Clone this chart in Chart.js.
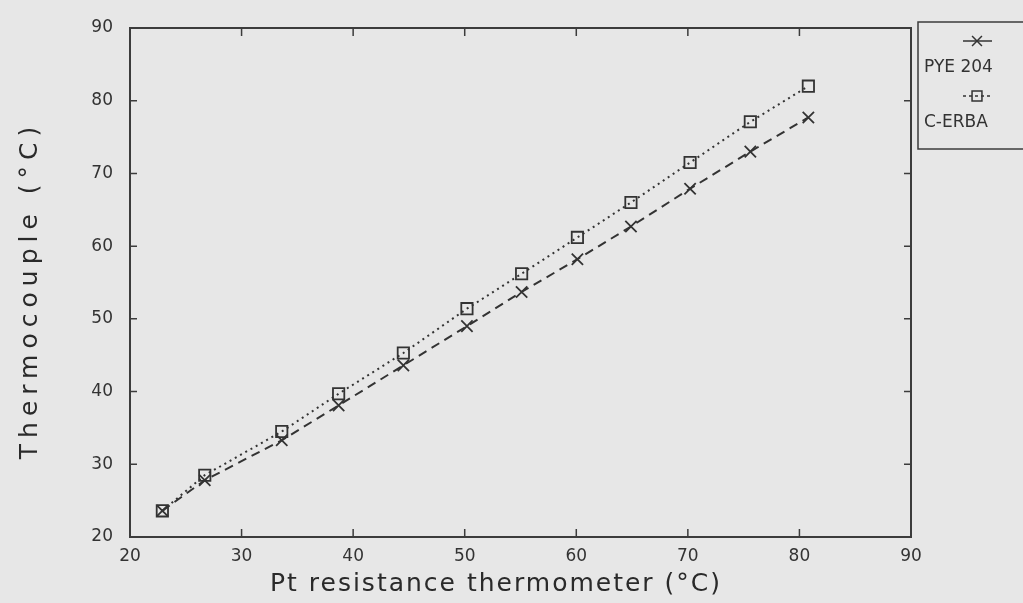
<!DOCTYPE html>
<html>
<head>
<meta charset="utf-8">
<script src="https://cdn.jsdelivr.net/npm/chart.js@4.4.1/dist/chart.umd.min.js"></script>
<style>
    html, body { margin: 0; padding: 0; background: #e7e7e7; }
    #wrap { width: 1023px; height: 603px; }
</style>
</head>
<body>
<div id="wrap"><canvas id="thermoChart" width="1023" height="603"></canvas></div>
<script>
        // Pt resistance thermometer readings (x) and the two thermocouple readings (y)
        const ptTemps = [22.9, 26.7, 33.6, 38.7, 44.5, 50.2, 55.1, 60.1, 64.9, 70.2, 75.6, 80.8];
        const pyeReadings = [23.6, 27.8, 33.3, 38.1, 43.6, 49.0, 53.7, 58.2, 62.7, 67.9, 73.0, 77.7];
        const erbaReadings = [23.6, 28.5, 34.5, 39.7, 45.3, 51.4, 56.2, 61.2, 66.0, 71.5, 77.1, 82.0];
        const axisTicks = [20, 30, 40, 50, 60, 70, 80, 90];
        const seriesNames = ['PYE 204', 'C-ERBA'];
        const xTitle = 'Pt resistance thermometer (°C)';
        const yTitle = 'Thermocouple (°C)';

        const ink = '#333333';
        const fontFamily = '"DejaVu Sans", "Liberation Sans", sans-serif';

        function toPoints(xs, ys) {
            return xs.map(function (x, i) { return { x: x, y: ys[i] }; });
        }

        // frame round the plot, short inward ticks on all four sides, spaced axis titles
        const framePlugin = {
            id: 'frame',
            afterDraw: function (chart) {
                const ctx = chart.ctx;
                const a = chart.chartArea;
                const xs = chart.scales.x, ys = chart.scales.y;
                ctx.save();
                ctx.strokeStyle = '#3c3c3c';
                ctx.lineWidth = 2;
                ctx.strokeRect(a.left, a.top, a.right - a.left, a.bottom - a.top);
                ctx.lineWidth = 1.5;
                axisTicks.forEach(function (t) {
                    const px = xs.getPixelForValue(t);
                    const py = ys.getPixelForValue(t);
                    ctx.beginPath();
                    ctx.moveTo(px, a.bottom); ctx.lineTo(px, a.bottom - 8);
                    ctx.moveTo(px, a.top); ctx.lineTo(px, a.top + 8);
                    ctx.moveTo(a.left, py); ctx.lineTo(a.left + 7, py);
                    ctx.moveTo(a.right, py); ctx.lineTo(a.right - 7, py);
                    ctx.stroke();
                });

                ctx.fillStyle = '#2a2a2a';
                ctx.font = '25px ' + fontFamily;
                ctx.letterSpacing = '2px';
                ctx.textAlign = 'center';
                ctx.textBaseline = 'middle';
                ctx.fillText(xTitle, 496, 584);
                ctx.translate(30, 290);
                ctx.rotate(-Math.PI / 2);
                ctx.letterSpacing = '6px';
                ctx.fillText(yTitle, 0, 0);
                ctx.restore();
            }
        };

        // legend box at the top right, partly cut off by the edge
        const legendPlugin = {
            id: 'boxLegend',
            afterDraw: function (chart) {
                const ctx = chart.ctx;
                ctx.save();
                ctx.strokeStyle = '#3c3c3c';
                ctx.lineWidth = 1.5;
                ctx.strokeRect(918, 22, 130, 127);
                const rows = [41, 96];
                chart.data.datasets.forEach(function (ds, i) {
                    const my = rows[i];
                    ctx.strokeStyle = ink;
                    ctx.lineWidth = 1.5;
                    ctx.setLineDash(i === 0 ? [] : [3, 3]);
                    ctx.beginPath();
                    ctx.moveTo(963, my); ctx.lineTo(992, my);
                    ctx.stroke();
                    ctx.setLineDash([]);
                    ctx.fillStyle = 'rgba(0,0,0,0)';
                    Chart.helpers.drawPoint(ctx, {
                        pointStyle: ds.pointStyle, radius: ds.pointRadius - 1,
                        rotation: 0, borderWidth: 1.5
                    }, 977, my);
                    ctx.fillStyle = ink;
                    ctx.font = '17px ' + fontFamily;
                    ctx.textAlign = 'left';
                    ctx.textBaseline = 'middle';
                    ctx.fillText(ds.label, 924, my + 27);
                });
                ctx.restore();
            }
        };

        const ctx = document.getElementById('thermoChart').getContext('2d');
        const thermoChart = new Chart(ctx, {
            type: 'scatter',
            data: {
                datasets: [
                    {
                        label: seriesNames[0],
                        data: toPoints(ptTemps, pyeReadings),
                        showLine: true,
                        borderColor: ink,
                        borderWidth: 2,
                        borderDash: [9, 6],
                        pointStyle: 'crossRot',
                        pointRadius: 8,
                        pointBorderWidth: 1.8,
                        pointBorderColor: ink,
                        backgroundColor: 'transparent'
                    },
                    {
                        label: seriesNames[1],
                        data: toPoints(ptTemps, erbaReadings),
                        showLine: true,
                        borderColor: ink,
                        borderWidth: 2,
                        borderDash: [2, 4],
                        pointStyle: 'rect',
                        pointRadius: 8,
                        pointBorderWidth: 1.8,
                        pointBorderColor: ink,
                        pointBackgroundColor: 'transparent',
                        backgroundColor: 'transparent'
                    }
                ]
            },
            options: {
                responsive: false,
                animation: false,
                layout: { padding: { top: 28, right: 112, left: 0, bottom: 0 } },
                scales: {
                    x: {
                        type: 'linear',
                        min: 20,
                        max: 90,
                        afterBuildTicks: function (s) { s.ticks = axisTicks.map(function (v) { return { value: v }; }); },
                        afterFit: function (s) { s.height = 66; },
                        ticks: { color: ink, padding: 9, font: { family: fontFamily, size: 17 } },
                        grid: { display: false, drawTicks: false },
                        border: { display: false }
                    },
                    y: {
                        type: 'linear',
                        min: 20,
                        max: 90,
                        afterBuildTicks: function (s) { s.ticks = axisTicks.map(function (v) { return { value: v }; }); },
                        afterFit: function (s) { s.width = 130; },
                        ticks: { color: ink, padding: 17, font: { family: fontFamily, size: 17 } },
                        grid: { display: false, drawTicks: false },
                        border: { display: false }
                    }
                },
                plugins: {
                    legend: { display: false },
                    tooltip: { enabled: false }
                }
            },
            plugins: [framePlugin, legendPlugin]
        });
</script>
</body>
</html>
